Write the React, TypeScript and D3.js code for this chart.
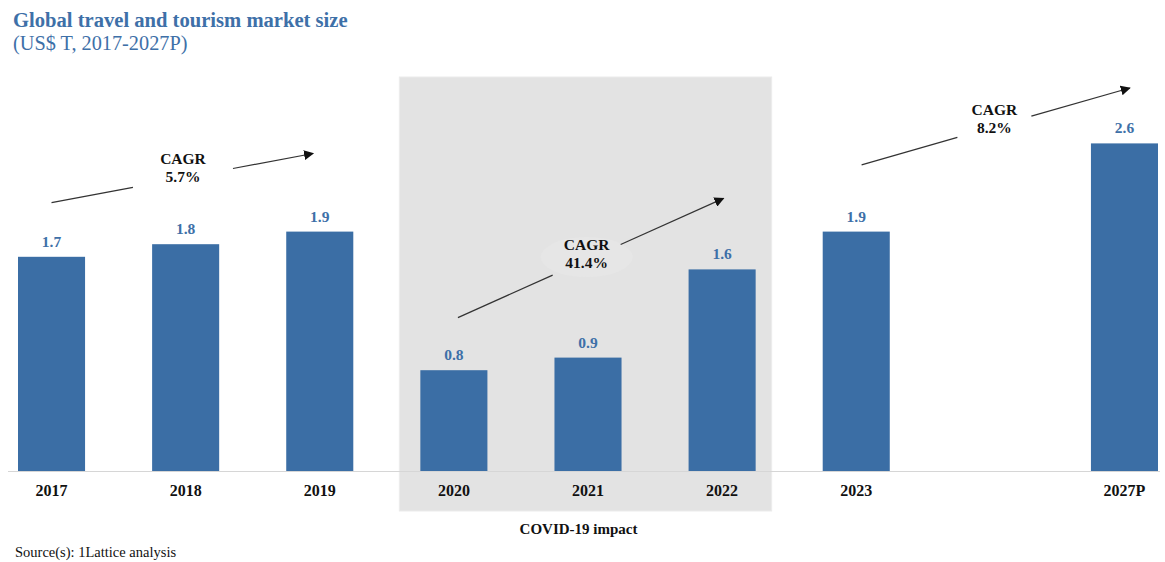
import React from "react";
import * as d3 from "d3";

const slots = ["2017", "2018", "2019", "2020", "2021", "2022", "2023", "gap", "2027P"];
const years = ["2017", "2018", "2019", "2020", "2021", "2022", "2023", "2027P"];
const values = [1.7, 1.8, 1.9, 0.8, 0.9, 1.6, 1.9, 2.6];
const covidYears = ["2020", "2021", "2022"];

// CAGR annotations: positions in slot index / data value units
const cagrLabels = ["5.7%", "41.4%", "8.2%"];
const cagrFromSlot = [0.0, 3.03, 6.04];
const cagrFromValue = [2.13, 1.217, 2.43];
const cagrToSlot = [1.95, 5.01, 8.04];
const cagrToValue = [2.52, 2.164, 3.04];
const cagrTextSlot = [0.98, 3.99, 7.03];
const cagrTextValue = [2.37, 1.69, 2.76];
const cagrGapHalf = [50, 34, 37];

const W = 1165;
const H = 562;
const FONT = '"Liberation Serif", "Times New Roman", serif';
const BAR = "#3b6ea5";
const BLUE_TEXT = "#3e70a8";

export default function App() {
  const x = d3.scaleBand<string>().domain(slots).range([18, 1158]).paddingInner(0.5).paddingOuter(0);
  const y = d3.scaleLinear().domain([0, 2.6]).range([471, 143.4]);
  const bw = x.bandwidth();
  const slotX = (i: number) => (x(slots[0]) as number) + bw / 2 + x.step() * i;

  const covidX0 = (x(covidYears[0]) as number) - 21;
  const covidX1 = (x(covidYears[covidYears.length - 1]) as number) + bw + 16;

  return (
    <svg
      width={W}
      height={H}
      style={{ position: "absolute", left: 0, top: 0, background: "#fff" }}
      fontFamily={FONT}
    >
      <defs>
        <marker id="arrow" viewBox="0 0 10 10" refX="9" refY="5" markerWidth="10" markerHeight="10" markerUnits="userSpaceOnUse" orient="auto">
          <path d="M0,0 L10,5 L0,10 z" fill="#111" />
        </marker>
      </defs>

      {/* title */}
      <text x={13} y={27} fontSize={20.6} fontWeight="bold" fill={BLUE_TEXT}>
        Global travel and tourism market size
      </text>
      <text x={13} y={50} fontSize={20.3} fill={BLUE_TEXT}>
        (US$ T, 2017-2027P)
      </text>

      {/* covid shaded area */}
      <rect x={covidX0} y={77} width={covidX1 - covidX0} height={511 - 77} fill="#e3e3e3" stroke="#ebebeb" strokeWidth={1} />
      <text x={(covidX0 + covidX1) / 2 - 7} y={534} fontSize={15} fontWeight="bold" textAnchor="middle" fill="#111">
        COVID-19 impact
      </text>

      {/* baseline */}
      <line x1={8} x2={1160} y1={471.5} y2={471.5} stroke="#d6d6d6" strokeWidth={1} />

      {/* bars */}
      {years.map((yr, i) => (
        <rect key={yr} x={x(yr)} y={y(values[i])} width={bw} height={y(0) - y(values[i])} fill={BAR} />
      ))}

      {/* value labels */}
      {years.map((yr, i) => (
        <text
          key={"v" + yr}
          x={(x(yr) as number) + bw / 2}
          y={y(values[i]) - 10}
          fontSize={15.5}
          fontWeight="bold"
          textAnchor="middle"
          fill={BLUE_TEXT}
        >
          {values[i].toFixed(1)}
        </text>
      ))}

      {/* year labels */}
      {years.map((yr) => (
        <text key={"y" + yr} x={(x(yr) as number) + bw / 2} y={496} fontSize={16} fontWeight="bold" textAnchor="middle" fill="#111">
          {yr}
        </text>
      ))}

      {/* CAGR arrows */}
      {cagrLabels.map((lab, i) => {
        const x0 = slotX(cagrFromSlot[i]);
        const y0 = y(cagrFromValue[i]);
        const x1 = slotX(cagrToSlot[i]);
        const y1 = y(cagrToValue[i]);
        const tx = slotX(cagrTextSlot[i]);
        const ty = y(cagrTextValue[i]);
        const slope = (y1 - y0) / (x1 - x0);
        const gx0 = tx - cagrGapHalf[i];
        const gx1 = tx + cagrGapHalf[i];
        const gy0 = y0 + slope * (gx0 - x0);
        const gy1 = y0 + slope * (gx1 - x0);
        return (
          <g key={lab}>
            {i === 1 && <ellipse cx={tx} cy={ty - 1} rx={46} ry={20} fill="#e6e6e6" />}
            <line x1={x0} y1={y0} x2={gx0} y2={gy0} stroke="#333" strokeWidth={1.2} />
            <line x1={gx1} y1={gy1} x2={x1} y2={y1} stroke="#333" strokeWidth={1.2} markerEnd="url(#arrow)" />
            <text x={tx} y={ty - 8} fontSize={15.5} fontWeight="bold" textAnchor="middle" fill="#111">
              CAGR
            </text>
            <text x={tx} y={ty + 10} fontSize={15.5} fontWeight="bold" textAnchor="middle" fill="#111">
              {lab}
            </text>
          </g>
        );
      })}

      {/* source */}
      <text x={15} y={557} fontSize={14.5} fill="#111">
        Source(s): 1Lattice analysis
      </text>
    </svg>
  );
}
